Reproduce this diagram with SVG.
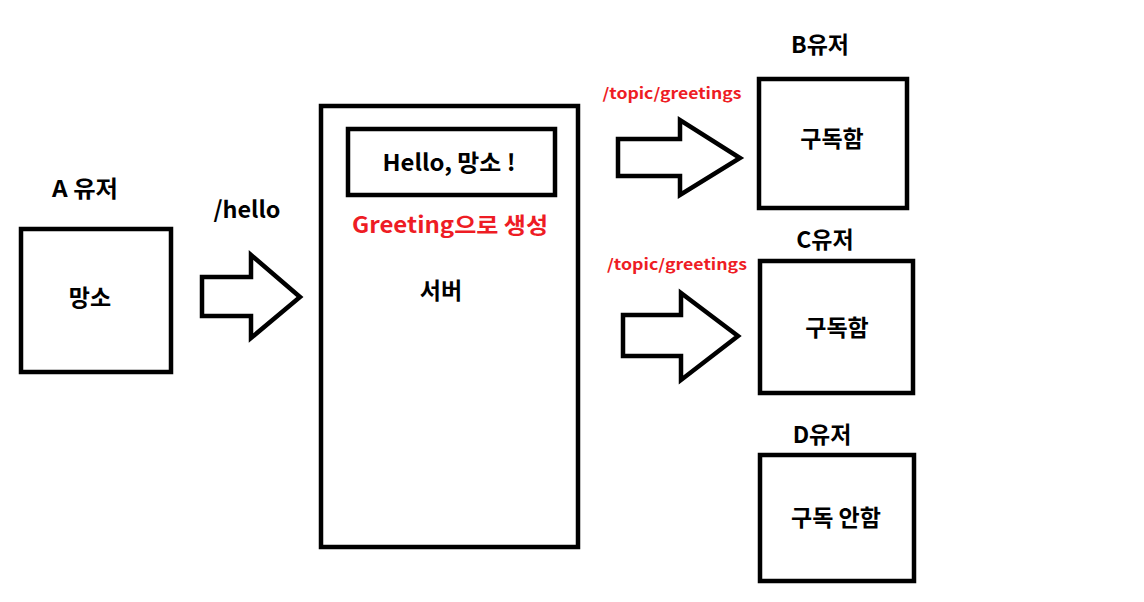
<svg xmlns="http://www.w3.org/2000/svg" width="1144" height="602" viewBox="0 0 1144 602">
<style>
.box{fill:#fff;stroke:#000;stroke-width:4.5}
.arr{fill:#fff;stroke:#000;stroke-width:4.5;stroke-linejoin:miter}
.t{font-family:"Noto Sans CJK KR","Noto Sans",sans-serif;font-weight:bold;font-size:23px;fill:#000;text-anchor:middle}
.r{font-family:"Noto Sans CJK KR","Noto Sans",sans-serif;font-weight:bold;fill:#ee1c24;text-anchor:middle}
</style>
<rect width="1144" height="602" fill="#fff"/>
<g id="connectors">
<polygon class="arr" points="202,277 251,277 251,255 300,297 251,338 251,316 202,316"/>
<polygon class="arr" points="618,139 680,139 680,120 740,158 680,195 680,176 618,176"/>
<polygon class="arr" points="623,315 681,315 681,293 738,336 681,380 681,356 623,356"/>
</g>
<g id="userA">
<text class="t" x="85" y="197" textLength="66" lengthAdjust="spacingAndGlyphs">A 유저</text>
<rect class="box" x="21" y="229" width="150" height="143"/>
<text class="t" x="90" y="306">망소</text>
</g>
<g id="label-hello"><text class="t" x="247" y="218" textLength="67" lengthAdjust="spacingAndGlyphs">/hello</text></g>
<g id="server">
<rect class="box" x="321" y="106" width="257" height="441"/>
<rect class="box" x="348" y="129" width="207" height="66"/>
<text class="t" x="449" y="171" textLength="133" lengthAdjust="spacingAndGlyphs">Hello, 망소 !</text>
<text class="r" x="450" y="233" font-size="22" textLength="196" lengthAdjust="spacingAndGlyphs">Greeting으로 생성</text>
<text class="t" x="441" y="299">서버</text>
</g>
<g id="label-b"><text class="r" x="672" y="99" font-size="15" textLength="139" lengthAdjust="spacingAndGlyphs">/topic/greetings</text></g>
<g id="userB">
<text class="t" x="820" y="53">B유저</text>
<rect class="box" x="759" y="79" width="148" height="129"/>
<text class="t" x="832" y="147">구독함</text>
</g>
<g id="label-c"><text class="r" x="677" y="270" font-size="15" textLength="140" lengthAdjust="spacingAndGlyphs">/topic/greetings</text></g>
<g id="userC">
<text class="t" x="825" y="248">C유저</text>
<rect class="box" x="760" y="261" width="153" height="132"/>
<text class="t" x="837" y="336">구독함</text>
</g>
<g id="userD">
<text class="t" x="822" y="443">D유저</text>
<rect class="box" x="760" y="455" width="154" height="126"/>
<text class="t" x="836" y="526">구독 안함</text>
</g>
</svg>
